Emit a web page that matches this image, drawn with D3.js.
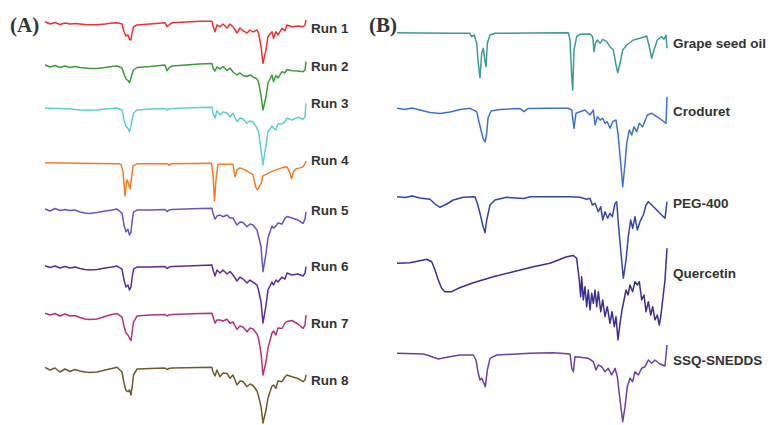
<!DOCTYPE html>
<html>
<head>
<meta charset="utf-8">
<script src="https://cdn.jsdelivr.net/npm/d3@7"></script>
<style>
  body { margin: 0; background: #fff; }
  svg { display: block; }
</style>
</head>
<body>
<svg id="main" width="776" height="425"></svg>
<script>
// FTIR spectra, stacked. x = wavenumber (cm-1), y = transmittance (stack units)

// ---- panel A: runs 1-8 ----
const runNames = ["Run 1", "Run 2", "Run 3", "Run 4", "Run 5", "Run 6", "Run 7", "Run 8"];
const runColors = ["#ee3030", "#3c9a3c", "#5ecfcf", "#f47b24", "#6b52c2", "#5c2d91", "#b2327d", "#6e5a2e"];

// shared wavenumber grid for runs 1,2,3,5,6,7,8
const wnRuns = [4000,3933,3866,3799,3732,3665,3598,3531,3464,3397,3303,3195,3102,3034,2967,2941,2914,2887,2867,2847,2833,2813,2766,2592,2391,2364,2337,2297,1922,1761,1747,1720,1694,1653,1613,1559,1519,1479,1425,1385,1345,1291,1251,1211,1157,1137,1103,1077,1036,1010,956,936,903,876,822,782,755,688,607,540,513,500];

const run1T = [78.3,76,77.5,75.5,77,76,76.5,76,75.5,75.2,75.2,76,77,77.3,76,68.3,64,65,60.7,60,67,73,75,76,77.3,73.3,75,77.3,78.7,78.7,74,68.3,75,73.3,76,72,76,73.3,67,72,69.3,67,70,68,70,67,53.3,36.7,50,63.3,68.3,61.7,68.3,65,71.7,69.3,75,73.3,74,73.3,75,80];
const run2T = [84.3,82.3,83.8,81.8,83.3,81.8,82.8,81.8,81.3,80.8,80.8,81.8,82.8,83.3,81.3,75.3,70.3,68.8,66.6,71.3,75.3,79.3,81.8,82.8,84.3,78.6,81.3,83.3,85.3,85.8,81.3,78.3,82.3,80.3,82.8,78.8,81.3,77.3,74.3,76.3,73.8,72.8,74.3,72.3,70.3,67.3,53.3,39.3,52.3,66.3,74.3,67.6,73.8,71.3,77.6,76.3,79.8,78.6,78.3,77.6,79.3,87.6];
const run3T = [90.3,90.3,90.1,90.1,89.8,89.6,89.1,88.6,88.3,88.3,88.6,89.6,90.1,90.6,88.6,78.6,72.6,70.1,66.9,72.6,78.6,85.6,88.6,89.6,90.1,88.6,89.6,90.1,91.1,91.3,85.3,80.6,87.9,83.6,86.6,85.6,81.9,85.3,76.9,80.6,79.6,75.3,77.6,76.6,70.6,66.6,48.6,33.6,53.6,66.6,72.6,70.6,68.6,74.6,74.6,76.6,80.3,78.6,81.3,79.3,81.6,95.3];
const run5T = [88.1,86.1,88.6,86.6,87.6,86.6,87.1,85.1,84.1,83.6,84.6,86.1,87.1,88.1,84.1,72.1,65.4,67.8,62.1,65.1,75.1,85.1,87.1,87.1,87.6,85.6,87.1,87.6,88.6,88.8,83.8,78.1,81.1,82.1,80.4,82.1,79.1,79.1,72.1,75.1,74.6,70.4,73.1,72.1,67.1,61.1,50.4,25.4,43.8,59.1,71.1,69.1,71.1,74.1,73.1,78.8,80.6,79.1,77.1,73.8,78.1,85.4];
const run6T = [80.7,78.9,80.4,78.4,79.9,78.4,79.4,77.9,76.9,76.4,76.9,78.4,79.4,80.4,77.4,66.4,59.4,61.4,56.4,59.4,68.4,77.4,79.4,79.4,79.9,77.9,79.4,79.9,80.9,81.4,76.4,70.4,76.4,73.4,76.4,72.4,74.9,71.4,65.4,69.4,67.4,63.4,66.4,64.4,61.4,56.4,44.4,23.4,41.4,56.4,64.4,61.4,66.4,64.4,69.4,67.4,73.4,71.4,72.4,70.4,73.4,79.9];
const run7T = [82.4,80.7,82.2,79.7,81.7,79.7,80.2,78.2,76.7,76.2,76.7,79.2,81.2,82.2,78.7,69.7,62.7,60.7,57.7,55,62.7,73.7,79.7,80.7,81.2,79.7,80.7,81.2,82.2,82.4,79,72.7,75.7,75.7,74.7,76.4,72.4,73.7,66.4,69.7,68.7,64,67.7,66.7,61.7,57.7,42.4,20.7,33.7,47.7,62.7,64.7,60.7,67.7,67.2,72.7,74.2,75.2,71.7,67.4,70.7,80.7];
const run8T = [77.7,75,77,73,76,73.5,75.5,74,73,72.5,73,75,76.5,77.7,73,62,54.5,53.3,55,50,57,70,76,76.5,77,75.5,76.5,77,77.5,77.7,73,69,75,68.3,72,71.5,66.7,70,60,64,63.5,58.3,61,59.5,54,49,38.3,22,35,47,59,60,56.7,64,63.3,68,70,68.3,66.5,63.3,65,70];

// run 4 has its own sampling
const run4Wn = [4000,3531,3034,2981,2954,2927,2907,2894,2874,2860,2840,2820,2766,2351,2337,2310,1767,1747,1727,1707,1680,1479,1452,1425,1385,1318,1251,1211,1170,1150,1123,1103,1077,1023,943,822,755,721,694,668,634,581,540,513,500];
const run4T = [85,84.5,84,83.5,76,52,66,68,62,59,70,82,84,84,82.5,84,84.5,73,47,68,83.5,83.5,71,78,80,78,75,73,60,58,62,64,72,74,77,80,81,76,69,76,79,80,81,84,87];

// ---- panel B: components and formulation ----
const compNames = ["Grape seed oil", "Croduret", "PEG-400", "Quercetin", "SSQ-SNEDDS"];
const compColors = ["#3c9a95", "#3f72c9", "#3346a6", "#3a2f8e", "#6a40a3"];

const grapeWn = [4000,3702,3313,3054,3032,2998,2967,2946,2924,2902,2881,2859,2846,2829,2794,2730,2276,1779,1757,1735,1722,1706,1671,1628,1498,1463,1446,1429,1403,1368,1333,1282,1239,1196,1165,1139,1109,1074,1022,937,850,763,729,698,668,626,569,539,513,500];
const grapeT = [97.3,97,96.7,96.7,93.3,95,86.7,66.7,52.3,76.7,81.7,68.3,63.3,86.7,95,96.7,97,97.3,90,53.3,40,80,93.3,95.7,96,93.3,78.3,86.7,90,86.7,90.7,88.3,83.3,80,66.7,57.3,66.7,80,85,90,91.7,94,83.3,71.7,80,90,93.3,90.7,95,81.7];

const crodWn = [4000,3896,3806,3702,3572,3443,3313,3183,3054,2967,2937,2911,2885,2859,2840,2820,2781,2665,2406,2354,2302,2017,1783,1735,1706,1680,1628,1563,1498,1455,1433,1403,1368,1333,1304,1274,1239,1204,1161,1131,1100,1074,1044,1022,989,957,928,893,859,815,755,698,633,569,513,500];
const crodT = [101.7,100.5,102,100,97.5,96.5,98,100.5,101.7,98.3,88,80,72,68,75,92,99,100.5,101.5,98.3,101.5,101.7,101.7,100,81.7,96.7,98.3,100,95,100,85,93.3,90,91.7,86.7,88.3,81.7,88.3,90,73.3,46.7,23.3,46.7,66.7,80,75,83.3,78.3,86.7,83.3,95,96.7,93.3,90,86.7,113.3];

const pegWn = [4000,3896,3806,3702,3572,3507,3443,3378,3270,3141,2989,2959,2924,2889,2859,2837,2794,2730,2578,2354,2276,1757,1628,1541,1498,1468,1433,1390,1359,1333,1304,1269,1239,1209,1174,1152,1131,1100,1066,1031,1002,971,945,915,885,850,807,772,742,698,633,569,526,500];
const pegT = [93.3,92.5,94,92,90.7,86,82.7,85,90,92.7,93.3,86.7,76.7,65,57.3,70,85,90,92.7,91.5,93.3,93.3,92.7,90.7,91.7,85,86.7,78.3,83.3,70,78.3,71.7,76.7,73.3,86.7,88.3,66.7,40,11.7,30,53.3,70,61.7,73.3,60,68.3,75,85,88.3,85,80,75,71.7,88.3];

const querWn = [4000,3831,3702,3615,3550,3507,3465,3421,3378,3291,3205,3011,2752,2492,2233,2017,1800,1714,1671,1637,1619,1606,1585,1563,1541,1520,1498,1476,1455,1433,1411,1390,1359,1333,1304,1274,1239,1213,1183,1161,1135,1109,1083,1057,1031,1005,980,945,915,885,859,828,798,772,742,711,685,656,626,600,578,556,526,500];
const querT = [106.7,107.3,109.3,110.7,108.3,100,90,81.7,78.3,78.3,81.7,87.3,93.3,98.3,103.3,106.7,113.3,114.5,111.7,90,73.3,93.3,70,83.3,63.3,80,60,76.7,66.7,80,63.3,78.3,58.3,70,53.3,63.3,46.7,58.3,43.3,53.3,30,46.7,60,70,80,75,85,78.3,88.3,85,88.3,70,75,58.3,68.3,55,63.3,50,55,45,55,70,90,121.7];

const ssqWn = [4000,3659,3572,3465,3356,3183,3011,2976,2946,2924,2902,2881,2855,2829,2794,2708,2276,1974,1757,1735,1714,1693,1628,1520,1455,1420,1390,1346,1304,1261,1217,1174,1144,1109,1074,1044,1015,980,945,915,872,828,785,742,698,656,591,526,500];
const ssqT = [96.7,96,94,91,92.7,95,95,90,76.7,70,71.7,68.3,63.3,80,91.7,95,96.7,97.3,96,81.7,78.3,93.3,92.7,91.7,88.3,80,85,83.3,78.3,81.7,75,81.7,73.3,50,28.3,43.3,63.3,71.7,68.3,78.3,75,81.7,83.3,90,86.7,90,86,84,105];

const zip = (xs, ys) => xs.map((x, i) => [x, ys[i]]);

const runSeries = [
  zip(wnRuns, run1T), zip(wnRuns, run2T), zip(wnRuns, run3T), zip(run4Wn, run4T),
  zip(wnRuns, run5T), zip(wnRuns, run6T), zip(wnRuns, run7T), zip(wnRuns, run8T)
];
const compSeries = [
  zip(grapeWn, grapeT), zip(crodWn, crodT), zip(pegWn, pegT), zip(querWn, querT), zip(ssqWn, ssqT)
];

// label nudges (px, relative to the start of each trace)
const runLabelDy = [6.6, 1.7, -4.3, -2.3, 1, 1, 10, 12.7];
const compLabelDy = [10.6, 3.4, 6.6, 10, 6.7];

let svg = d3.select('#main');

// transmittance -> pixel drop below the slot top
let tScale = d3.scaleLinear().domain([100, 0]).range([0, 100]);

function panel(opts) {
  let x = d3.scaleLinear().domain([4000, 500]).range(opts.xRange);
  let slot = d3.scalePoint().domain(opts.names).range(opts.slotRange);

  let g = svg.append('g').attr('class', opts.cls);

  opts.series.forEach((pts, i) => {
    let name = opts.names[i];
    let line = d3.line()
      .x(d => x(d[0]))
      .y(d => slot(name) + tScale(d[1]));

    g.append('path')
      .datum(pts)
      .attr('d', line)
      .attr('fill', 'none')
      .attr('stroke', opts.colors[i])
      .attr('stroke-width', 1.5)
      .attr('stroke-linejoin', 'round');

    g.append('text')
      .attr('x', opts.labelX)
      .attr('y', slot(name) + tScale(pts[0][1]) + opts.labelDy[i])
      .attr('dominant-baseline', 'central')
      .style('font-family', 'Liberation Sans, Arial, sans-serif')
      .style('font-weight', 'bold')
      .style('font-size', '13.5px')
      .style('fill', '#333')
      .text(name);
  });

  svg.append('text')
    .attr('x', opts.titleX)
    .attr('y', 32)
    .style('font-family', 'Liberation Serif, Times New Roman, serif')
    .style('font-weight', 'bold')
    .style('font-size', '21px')
    .style('fill', '#333')
    .text(opts.title);
}

panel({
  cls: 'panelA', title: '(A)', titleX: 10,
  names: runNames, colors: runColors, series: runSeries,
  xRange: [45, 306], slotRange: [0, 345],
  labelX: 311, labelDy: runLabelDy
});

panel({
  cls: 'panelB', title: '(B)', titleX: 369,
  names: compNames, colors: compColors, series: compSeries,
  xRange: [397, 667], slotRange: [30, 350],
  labelX: 673, labelDy: compLabelDy
});
</script>
</body>
</html>
